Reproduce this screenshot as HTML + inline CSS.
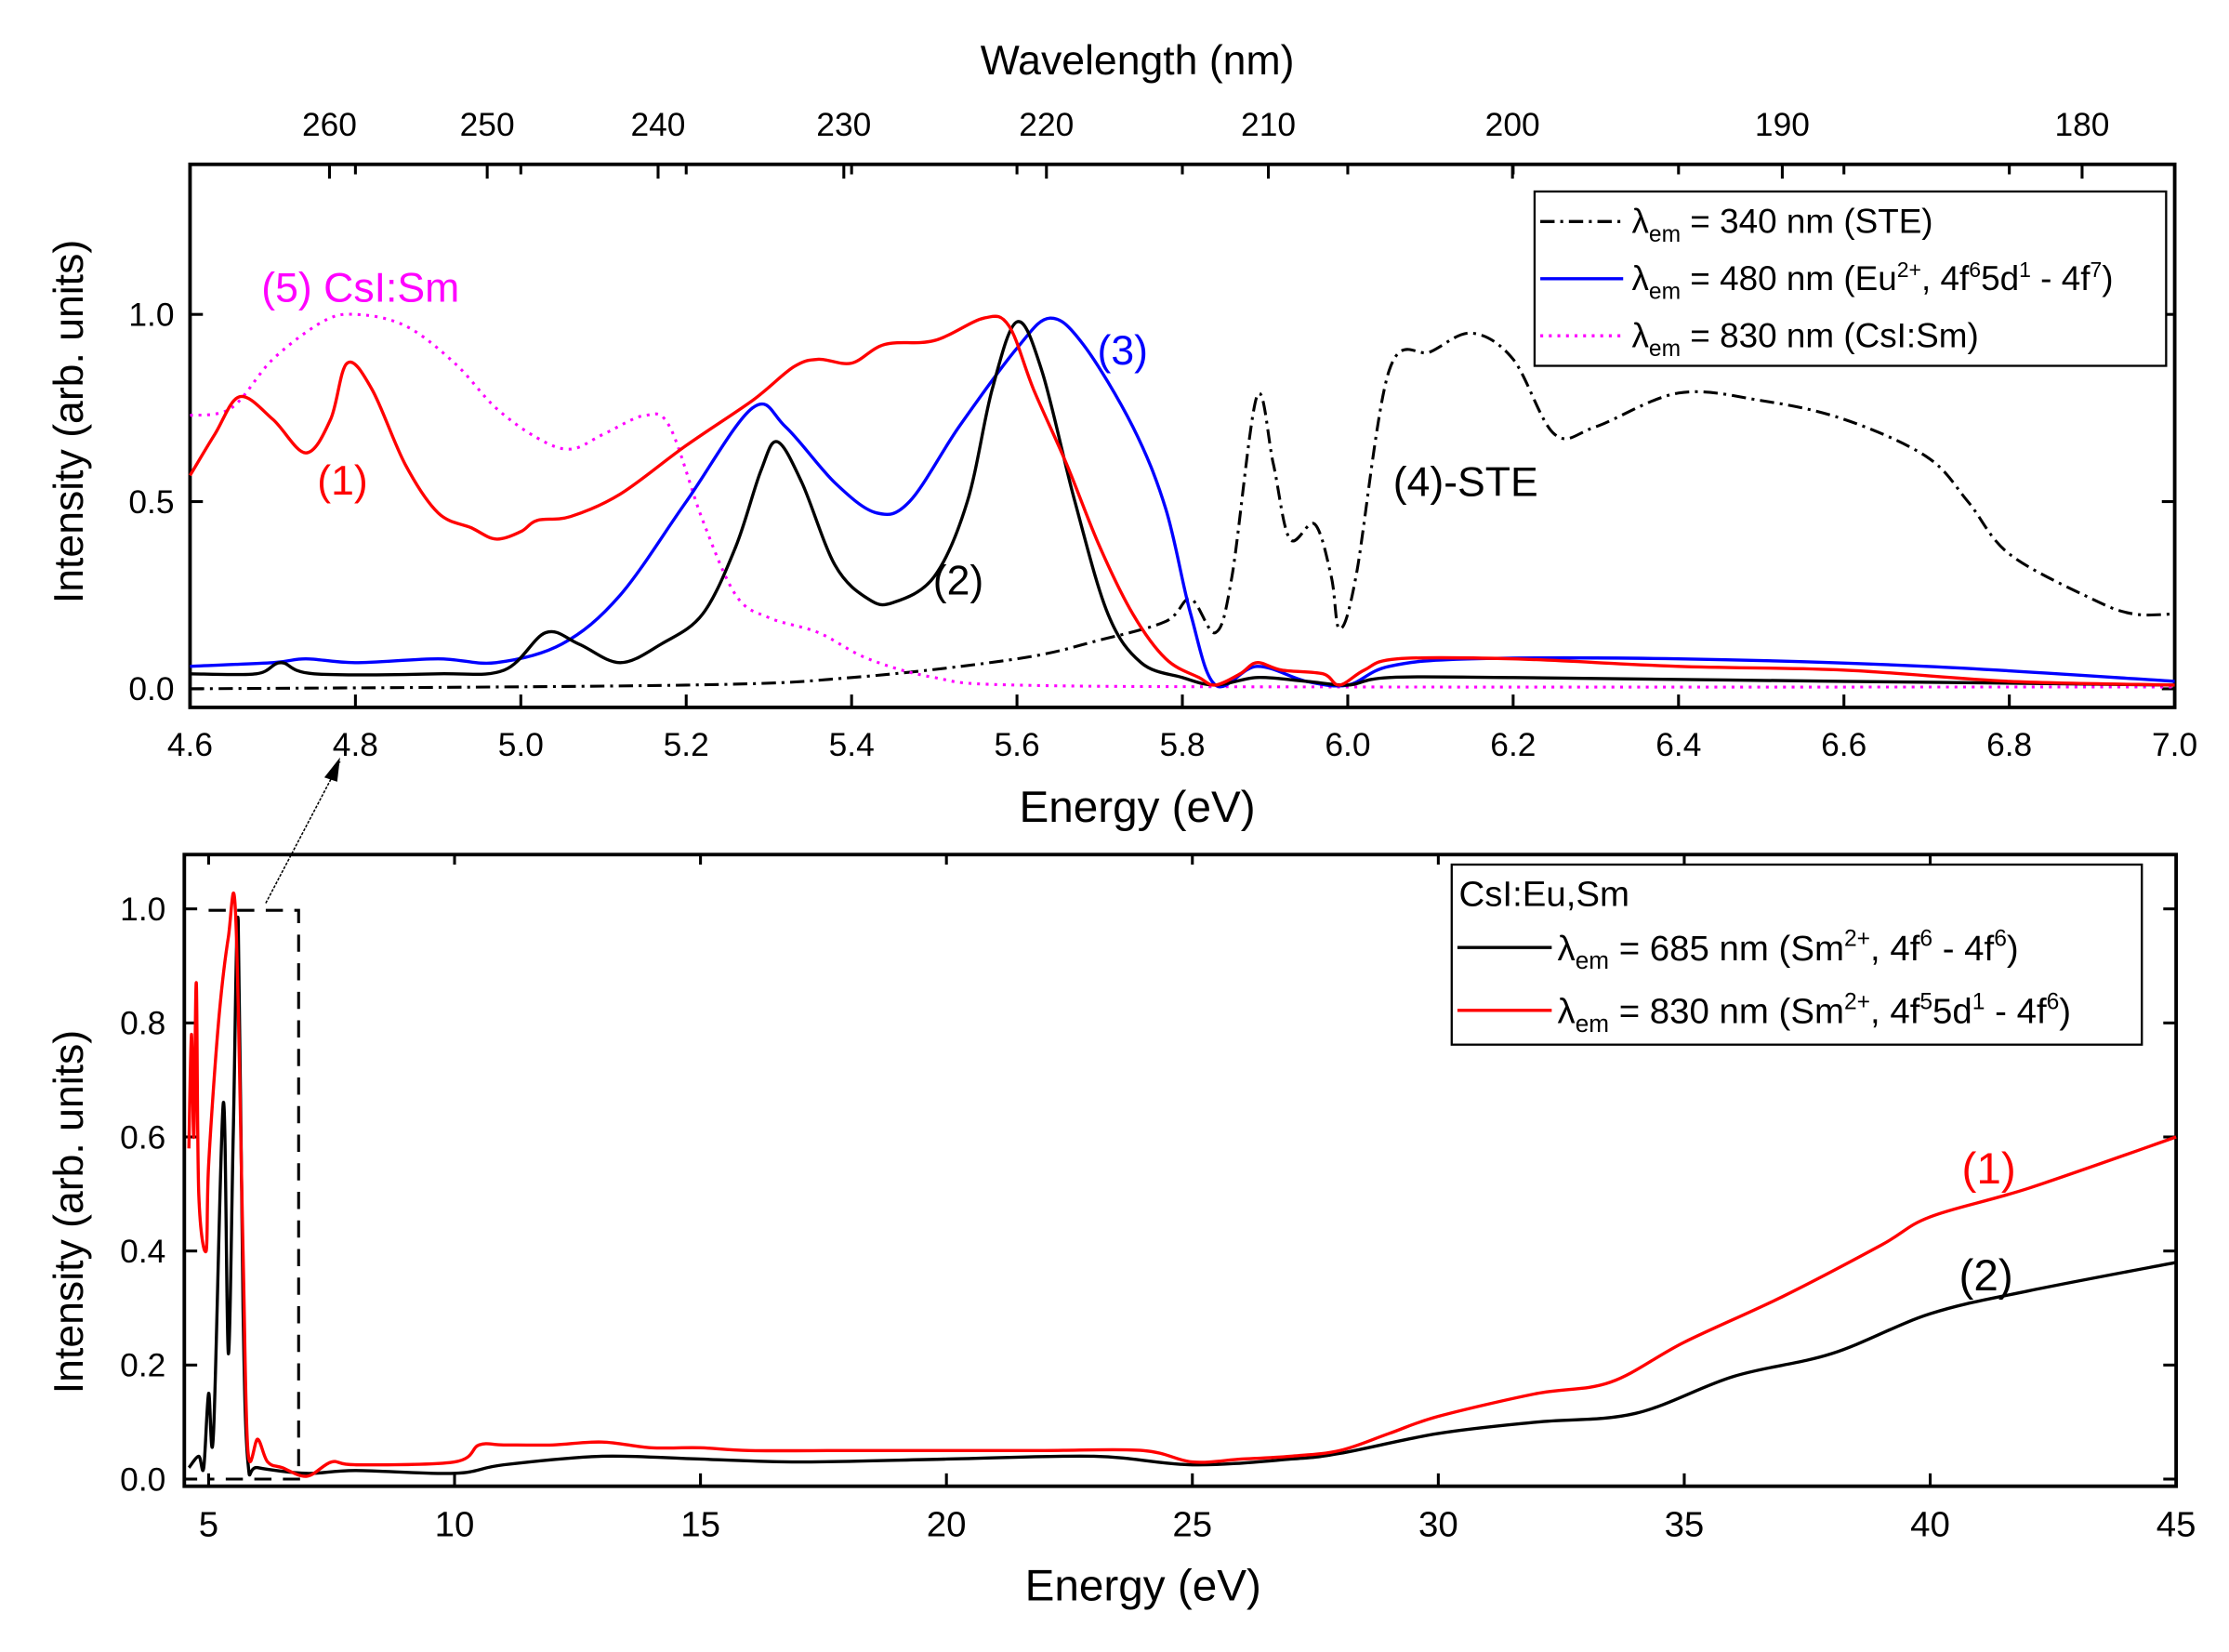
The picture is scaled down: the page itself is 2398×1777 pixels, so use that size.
<!DOCTYPE html>
<html><head><meta charset="utf-8"><style>
html,body{margin:0;padding:0;background:#fff}
svg{display:block}
text{font-family:"Liberation Sans",Arial,sans-serif}
</style></head><body>
<svg id="chart" width="2398" height="1777" viewBox="0 0 1560 1156" preserveAspectRatio="none" xmlns="http://www.w3.org/2000/svg">
<rect width="1560" height="1156" fill="#fff"/>
<g id="top"></g><g id="bot"></g>
</svg>
<script>
// ---------- top panel data ----------
const redE=[4.6,4.63,4.66,4.7,4.74,4.77,4.79,4.82,4.86,4.9,4.94,4.97,5.0,5.02,5.06,5.12,5.2,5.28,5.33,5.36,5.4,5.44,5.5,5.56,5.59,5.62,5.66,5.7,5.74,5.78,5.82,5.84,5.87,5.89,5.92,5.97,5.99,6.02,6.06,6.2,6.4,6.6,6.8,7.0];
const redI=[0.57,0.68,0.78,0.72,0.63,0.72,0.87,0.8,0.6,0.47,0.43,0.4,0.42,0.45,0.46,0.52,0.65,0.77,0.86,0.88,0.87,0.92,0.93,0.99,0.97,0.8,0.6,0.38,0.2,0.08,0.03,0.01,0.04,0.07,0.05,0.04,0.01,0.05,0.08,0.08,0.06,0.05,0.02,0.01];
const blkE=[4.6,4.68,4.71,4.75,4.9,4.98,5.03,5.07,5.12,5.17,5.22,5.26,5.29,5.31,5.34,5.38,5.42,5.45,5.5,5.54,5.57,5.6,5.63,5.67,5.71,5.75,5.8,5.84,5.89,5.95,6.0,6.05,6.2,6.6,7.0];
const blkI=[0.04,0.04,0.07,0.04,0.04,0.05,0.15,0.12,0.07,0.12,0.2,0.38,0.58,0.66,0.55,0.33,0.24,0.23,0.3,0.5,0.8,0.98,0.85,0.5,0.2,0.07,0.03,0.01,0.03,0.02,0.01,0.03,0.03,0.02,0.01];
const bluE=[4.6,4.7,4.74,4.8,4.9,4.97,5.05,5.12,5.2,5.28,5.32,5.38,5.43,5.47,5.53,5.6,5.64,5.68,5.74,5.78,5.81,5.84,5.89,5.95,6.0,6.05,6.15,6.4,6.7,7.0];
const bluI=[0.06,0.07,0.08,0.07,0.08,0.07,0.12,0.25,0.5,0.75,0.7,0.55,0.47,0.5,0.7,0.91,0.99,0.92,0.7,0.48,0.2,0.01,0.06,0.02,0.01,0.06,0.08,0.08,0.06,0.02];
const magE=[4.6,4.65,4.7,4.76,4.8,4.86,4.92,4.97,5.02,5.06,5.1,5.15,5.18,5.22,5.26,5.3,5.36,5.42,5.5,5.6,6.0,7.0];
const magI=[0.73,0.75,0.88,0.98,1.0,0.97,0.87,0.75,0.67,0.64,0.68,0.73,0.7,0.45,0.25,0.19,0.15,0.08,0.03,0.01,0.005,0.005];
const steE=[4.6,5.2,5.4,5.6,5.7,5.78,5.81,5.84,5.86,5.89,5.91,5.93,5.96,5.98,5.99,6.01,6.05,6.1,6.15,6.2,6.25,6.3,6.4,6.5,6.6,6.7,6.75,6.8,6.9,6.95,7.0];
const steI=[0.0,0.01,0.03,0.08,0.13,0.18,0.24,0.15,0.3,0.78,0.6,0.4,0.44,0.3,0.16,0.3,0.85,0.9,0.95,0.88,0.68,0.7,0.79,0.77,0.72,0.62,0.5,0.36,0.24,0.2,0.2];
const topXTicks=[4.6,4.8,5.0,5.2,5.4,5.6,5.8,6.0,6.2,6.4,6.6,6.8,7.0];
const topYTicks=[0.0,0.5,1.0];
const wlTicks=[260,250,240,230,220,210,200,190,180];
// ---------- bottom panel data ----------
const bRedE=[4.6,4.65,4.7,4.75,4.8,4.95,5.0,5.2,5.4,5.55,5.7,5.8,6,6.2,6.5,7,7.5,8,10,10.5,11,12,13,14,15,16,18,20,22,24,25,26,27,28,29,30,32,33.5,35,37,39,40,42,45];
const bRedI=[0.58,0.78,0.6,0.87,0.5,0.4,0.55,0.8,0.95,0.99,0.4,0.05,0.07,0.03,0.02,0.005,0.03,0.025,0.03,0.06,0.06,0.06,0.065,0.055,0.055,0.05,0.05,0.05,0.05,0.05,0.03,0.035,0.04,0.05,0.08,0.11,0.15,0.17,0.24,0.32,0.41,0.46,0.51,0.6];
const bBlkE=[4.6,4.8,4.9,5.0,5.1,5.3,5.4,5.5,5.6,5.7,5.8,6,7,8,10,11,13,15,17,20,23,25,27,28,30,32,34,36,38,40,42,45];
const bBlkI=[0.02,0.04,0.02,0.15,0.08,0.66,0.22,0.6,0.98,0.3,0.03,0.02,0.01,0.015,0.01,0.025,0.04,0.035,0.03,0.035,0.04,0.025,0.035,0.045,0.08,0.1,0.115,0.18,0.22,0.29,0.33,0.38];
const botXTicks=[5,10,15,20,25,30,35,40,45];
const botYTicks=[0.0,0.2,0.4,0.6,0.8,1.0];

const NS="http://www.w3.org/2000/svg";
function mk(parent,tag,attrs,txt){const e=document.createElementNS(NS,tag);for(const k in attrs)e.setAttribute(k,attrs[k]);if(txt!==undefined)e.textContent=txt;parent.appendChild(e);return e;}
const tx=e=>133+(e-4.6)/2.4*1389;
const ty=v=>482-v*262;
const bx=e=>146+(e-5)*34.425;
const by=v=>1035-v*399;

const T=document.getElementById('top');
const B=document.getElementById('bot');
function line(g,xs,ys,fx,fy,color,dash,w,name){
  const P=xs.map((x,i)=>[fx(x),fy(ys[i])]);
  let d='M'+P[0][0].toFixed(1)+' '+P[0][1].toFixed(1);
  for(let i=0;i<P.length-1;i++){
    const p0=P[i>0?i-1:i],p1=P[i],p2=P[i+1],p3=P[i+2<P.length?i+2:i+1];
    const c1=[p1[0]+(p2[0]-p0[0])/6,p1[1]+(p2[1]-p0[1])/6];
    const c2=[p2[0]-(p3[0]-p1[0])/6,p2[1]-(p3[1]-p1[1])/6];
    c1[0]=Math.min(Math.max(c1[0],p1[0]),p2[0]);c2[0]=Math.min(Math.max(c2[0],p1[0]),p2[0]);
    d+=' C'+c1[0].toFixed(1)+' '+c1[1].toFixed(1)+' '+c2[0].toFixed(1)+' '+c2[1].toFixed(1)+' '+p2[0].toFixed(1)+' '+p2[1].toFixed(1);
  }
  const p=mk(g,'path',{d:d,fill:'none',stroke:color,'stroke-width':w||2,'stroke-linejoin':'round'});
  if(dash)p.setAttribute('stroke-dasharray',dash);
  
  
  return p;
}
let f=mk(T,'rect',{x:133,y:115,width:1389,height:380,fill:'none',stroke:'#000','stroke-width':2.5});


topXTicks.forEach(v=>{
  const x=tx(v);
  mk(T,'line',{x1:x,y1:495,x2:x,y2:486,stroke:'#000','stroke-width':2});
  mk(T,'line',{x1:x,y1:115,x2:x,y2:122,stroke:'#000','stroke-width':2});
  const t=mk(T,'text',{x:x,y:529,'font-size':23,'text-anchor':'middle'},v.toFixed(1));
  
  
});
topYTicks.forEach(v=>{
  const y=ty(v);
  mk(T,'line',{x1:133,y1:y,x2:142,y2:y,stroke:'#000','stroke-width':2});
  mk(T,'line',{x1:1522,y1:y,x2:1513,y2:y,stroke:'#000','stroke-width':2});
  const t=mk(T,'text',{x:122,y:y+8,'font-size':23,'text-anchor':'end'},v.toFixed(1));
  
  
});
wlTicks.forEach(w=>{
  const x=tx(1239.84/w);
  mk(T,'line',{x1:x,y1:115,x2:x,y2:125,stroke:'#000','stroke-width':2});
  const t=mk(T,'text',{x:x,y:95,'font-size':23,'text-anchor':'middle'},String(w));
  
  
});
let t;
t=mk(T,'text',{x:796,y:52,'font-size':29,'text-anchor':'middle'},'Wavelength (nm)');


t=mk(T,'text',{x:796,y:575,'font-size':31,'text-anchor':'middle'},'Energy (eV)');


t=mk(T,'text',{x:58,y:295,'font-size':29,'text-anchor':'middle',transform:'rotate(-90 58 295)'},'Intensity (arb. units)');



line(T,steE,steI,tx,ty,'#000','10 4 2 4',2,'ste-curve');
line(T,magE,magI,tx,ty,'#ff00ff','2 4',2,'cssm-curve');
line(T,bluE,bluI,tx,ty,'#0000ff',null,2.2,'eu-curve');
line(T,blkE,blkI,tx,ty,'#000',null,2.2,'curve-2');
line(T,redE,redI,tx,ty,'#ff0000',null,2.2,'curve-1');

t=mk(T,'text',{x:183,y:211,'font-size':29,fill:'#ff00ff'},'(5) CsI:Sm');  
t=mk(T,'text',{x:222,y:346,'font-size':29,fill:'#ff0000'},'(1)');  
t=mk(T,'text',{x:653,y:416,'font-size':29,fill:'#000'},'(2)');  
t=mk(T,'text',{x:768,y:255,'font-size':29,fill:'#0000ff'},'(3)');  
t=mk(T,'text',{x:975,y:347,'font-size':29,fill:'#000'},'(4)-STE');  

let lg=mk(T,'g',{});


mk(lg,'rect',{x:1074,y:134,width:442,height:122,fill:'#fff',stroke:'#000','stroke-width':1.5});
const legT=[['#000','10 4 2 4','= 340 nm (STE)',null],['#0000ff',null,'= 480 nm (Eu',1],['#ff00ff','2 4','= 830 nm (CsI:Sm)',null]];
legT.forEach((L,i)=>{
  const y=155+i*40;
  const l=mk(lg,'line',{x1:1078,y1:y,x2:1136,y2:y,stroke:L[0],'stroke-width':2.2});
  if(L[1])l.setAttribute('stroke-dasharray',L[1]);
  const tx2=mk(lg,'text',{x:1142,y:y+8,'font-size':24});
  
  
  tx2.innerHTML='λ<tspan font-size="16" dy="6">em</tspan><tspan dy="-6"> '+L[2]+'</tspan>'+(L[3]?'<tspan font-size="15" dy="-9">2+</tspan><tspan dy="9">, 4f</tspan><tspan font-size="15" dy="-9">6</tspan><tspan dy="9">5d</tspan><tspan font-size="15" dy="-9">1</tspan><tspan dy="9"> - 4f</tspan><tspan font-size="15" dy="-9">7</tspan><tspan dy="9">)</tspan>':'');
});

f=mk(B,'rect',{x:129,y:598,width:1394,height:442,fill:'none',stroke:'#000','stroke-width':2.5});


botXTicks.forEach(v=>{
  const x=bx(v);
  mk(B,'line',{x1:x,y1:1040,x2:x,y2:1031,stroke:'#000','stroke-width':2});
  mk(B,'line',{x1:x,y1:598,x2:x,y2:605,stroke:'#000','stroke-width':2});
  const tt=mk(B,'text',{x:x,y:1075,'font-size':25,'text-anchor':'middle'},String(v));
  
  
});
botYTicks.forEach(v=>{
  const y=by(v);
  mk(B,'line',{x1:129,y1:y,x2:138,y2:y,stroke:'#000','stroke-width':2});
  mk(B,'line',{x1:1523,y1:y,x2:1514,y2:y,stroke:'#000','stroke-width':2});
  const tt=mk(B,'text',{x:116,y:y+8,'font-size':23,'text-anchor':'end'},v.toFixed(1));
  
  
});
t=mk(B,'text',{x:800,y:1120,'font-size':31,'text-anchor':'middle'},'Energy (eV)');
 
t=mk(B,'text',{x:58,y:848,'font-size':29,'text-anchor':'middle',transform:'rotate(-90 58 848)'},'Intensity (arb. units)');
 

line(B,bBlkE,bBlkI,bx,by,'#000',null,2.2,'bottom-curve-2');
line(B,bRedE,bRedI,bx,by,'#ff0000',null,2.2,'bottom-curve-1');
let zb=mk(B,'path',{d:'M146 637 L209 637 L209 1035 L146 1035',fill:'none',stroke:'#000','stroke-width':2,'stroke-dasharray':'12 8'});
 
let ar=mk(B,'line',{x1:186,y1:632,x2:238,y2:533,stroke:'#000','stroke-width':1,'stroke-dasharray':'2 1'});
 
let ah=mk(B,'path',{d:'M238 530 L227 544 L236 547 Z',fill:'#000'});
 

t=mk(B,'text',{x:1373,y:828,'font-size':31,fill:'#ff0000'},'(1)');  
t=mk(B,'text',{x:1371,y:903,'font-size':31,fill:'#000'},'(2)');  

let lg2=mk(B,'g',{});


mk(lg2,'rect',{x:1016,y:605,width:483,height:126,fill:'#fff',stroke:'#000','stroke-width':1.5});
t=mk(lg2,'text',{x:1021,y:634,'font-size':25},'CsI:Eu,Sm');  
const legB=[['#000','685','6','6'],['#ff0000','830','5','6']];
legB.forEach((L,i)=>{
  const y=663+i*44;
  mk(lg2,'line',{x1:1020,y1:y,x2:1086,y2:y,stroke:L[0],'stroke-width':2.2});
  const tt=mk(lg2,'text',{x:1090,y:y+9,'font-size':25});
  
  
  tt.innerHTML='λ<tspan font-size="17" dy="6">em</tspan><tspan dy="-6"> = '+L[1]+' nm (Sm</tspan><tspan font-size="16" dy="-10">2+</tspan><tspan dy="10">, 4f</tspan><tspan font-size="16" dy="-10">'+L[2]+'</tspan>'+(i?'<tspan dy="10">5d</tspan><tspan font-size="16" dy="-10">1</tspan><tspan dy="10"> - 4f</tspan>':'<tspan dy="10"> - 4f</tspan>')+'<tspan font-size="16" dy="-10">'+L[3]+'</tspan><tspan dy="10">)</tspan>';
});
</script>
</body></html>
